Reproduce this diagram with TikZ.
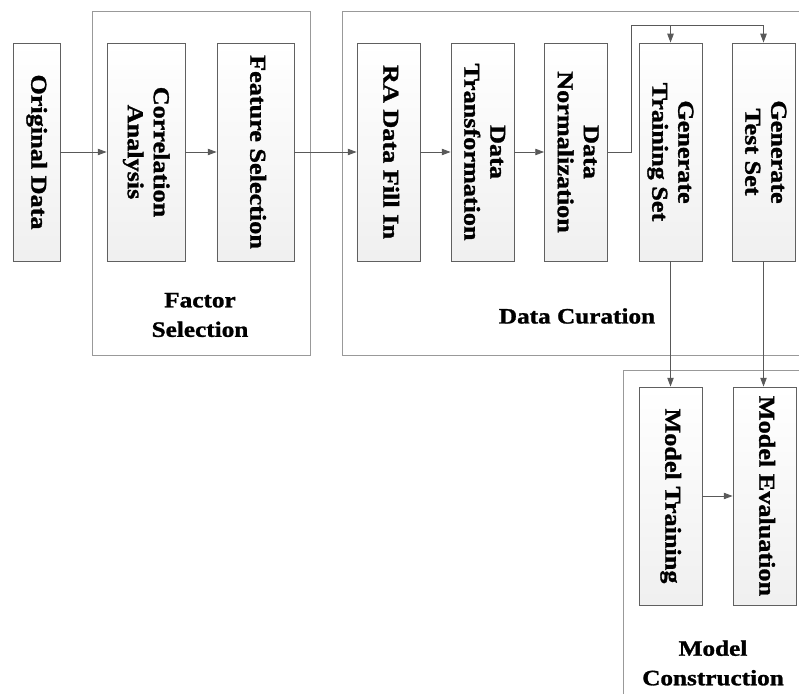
\documentclass[tikz,border=0pt]{standalone}
\usepackage{graphicx}
\usepackage{fontspec}
\setmainfont{Liberation Serif}[FakeStretch=1.15, FakeBold=1.3]
\usetikzlibrary{arrows.meta}

\newcommand{\vlabel}[1]{\rotatebox{-90}{\begin{tabular}{@{}c@{}}#1\end{tabular}}}

\tikzset{
    stage/.style={draw=gray!75!black, line width=0.6pt, top color=white, bottom color=gray!12,
        minimum height=5.45cm, inner sep=0pt, font=\fontsize{16.2}{18.5}\selectfont\bfseries},
    group/.style={draw=gray!80, line width=0.7pt},
    grouplabel/.style={align=center, font=\fontsize{15.6}{21}\selectfont\bfseries},
    link/.style={draw=gray!70!black, line width=0.6pt},
    arr/.style={link, -{Triangle[length=2.2mm, width=1.6mm]}}
}

\begin{document}
\begin{tikzpicture}[x=0.025cm, y=-0.025cm]
    \useasboundingbox (0,0) rectangle (799,694);
    \clip (0,0) rectangle (799,694);
    \fill[white] (0,0) rectangle (799,694);

    % Gruppen
    \draw[group] (92,11) rectangle (310,355);
    \draw[group] (342,11) rectangle (820,355);
    \draw[group] (623,370) rectangle (820,720);

    \node[grouplabel] (factorlbl) at (200,315) {Factor\\Selection};
    \node[grouplabel] (curationlbl) at (577,316) {Data Curation};
    \node[grouplabel] (modellbl) at (713,663) {Model\\Construction};

    % Schritte
    \node[stage, minimum width=1.175cm] (orig) at (36.5,152) {\vlabel{Original Data}};
    \node[stage, minimum width=1.95cm] (corr) at (146,152) {\vlabel{Correlation\\Analysis}};
    \node[stage, minimum width=1.925cm] (feat) at (255.5,152) {\vlabel{Feature Selection}};
    \node[stage, minimum width=1.575cm] (fill) at (388.5,152) {\vlabel{RA Data Fill In}};
    \node[stage, minimum width=1.575cm] (trans) at (482.5,152) {\vlabel{Data\\Transformation}};
    \node[stage, minimum width=1.575cm] (norm) at (576,152) {\vlabel{Data\\Normalization}};
    \node[stage, minimum width=1.575cm] (train) at (670.5,152) {\vlabel{Generate\\Training Set}};
    \node[stage, minimum width=1.575cm] (test) at (763.5,152) {\vlabel{Generate\\Test Set}};
    \node[stage, minimum width=1.575cm] (mtrain) at (670.5,496) {\vlabel{Model Training}};
    \node[stage, minimum width=1.575cm] (meval) at (764.5,496) {\vlabel{Model Evaluation}};

    % Verbindungen
    \draw[arr] (orig) -- (corr);
    \draw[arr] (corr) -- (feat);
    \draw[arr] (feat) -- (fill);
    \draw[arr] (fill) -- (trans);
    \draw[arr] (trans) -- (norm);

    \coordinate (split) at (631,25);
    \draw[link] (norm.east) -| (split);
    \draw[arr] (split) -| (train.north);
    \draw[arr] (split) -| (test.north);

    \draw[arr] (train) -- (mtrain);
    \draw[arr] (test.south) -- (test.south |- meval.north);
    \draw[arr] (mtrain) -- (meval);
\end{tikzpicture}
\end{document}
